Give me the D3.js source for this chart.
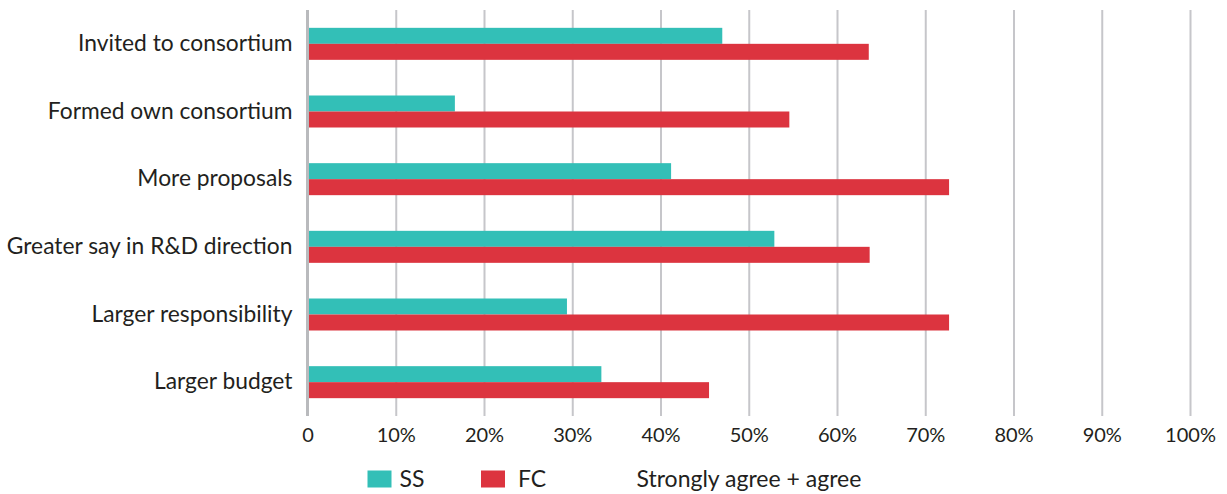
<!DOCTYPE html>
<html>
<head>
<meta charset="utf-8">
<script src="https://cdn.jsdelivr.net/npm/d3@7"></script>
<style>
  body { margin: 0; background: #fff; }
  svg { display: block; }
  text { font-family: Lato, "Noto Sans", sans-serif; fill: #231f20; }
</style>
</head>
<body>
<div id="chart"></div>
<script>
// categories, top to bottom
let categories = [
	"Invited to consortium",
	"Formed own consortium",
	"More proposals",
	"Greater say in R&D direction",
	"Larger responsibility",
	"Larger budget"
];
let seriesNames = ["SS", "FC"];
let ssValues = [47.0, 16.7, 41.2, 52.9, 29.4, 33.3];
let fcValues = [63.6, 54.6, 72.7, 63.7, 72.7, 45.5];
let tickValues = [0, 10, 20, 30, 40, 50, 60, 70, 80, 90, 100];
let tickLabels = ["0", "10%", "20%", "30%", "40%", "50%", "60%", "70%", "80%", "90%", "100%"];
let legendNote = "Strongly agree + agree";

let colors = { SS: "#33bfb7", FC: "#dc343f" };

let width = 1227,
    height = 494;

let svg = d3.select("#chart").append("svg")
	.attr("width", width)
	.attr("height", height);

let x = d3.scaleLinear()
	.domain([0, 100])
	.range([307.5, 1190]);

let y = d3.scaleBand()
	.domain(categories)
	.range([10, 416]);

let barGroup = 32;
let ySub = d3.scaleBand()
	.domain(seriesNames)
	.range([0, barGroup]);

// grid lines
svg.append("g")
	.attr("transform", "translate(0,10)")
	.call(d3.axisBottom(x).tickValues(tickValues.slice(1)).tickSize(406).tickFormat(""))
	.call(g => g.select(".domain").remove())
	.call(g => g.selectAll("line").attr("stroke", "#c6c6ca").attr("stroke-width", 2));

// tick labels
svg.append("g")
	.attr("transform", "translate(0,425)")
	.call(d3.axisBottom(x).tickValues(tickValues).tickSize(0).tickFormat((d, i) => tickLabels[i]))
	.call(g => g.select(".domain").remove())
	.call(g => g.selectAll("text")
		.attr("font-size", 20)
		.attr("font-family", "Lato, 'Noto Sans', sans-serif")
		.attr("dy", "0.71em")
		.style("fill", "#231f20"));

// bars
let rows = categories.map((c, i) => ({ cat: c, SS: ssValues[i], FC: fcValues[i] }));

let groups = svg.append("g")
	.selectAll("g")
	.data(rows)
	.enter()
	.append("g")
	.attr("transform", d => `translate(0,${y(d.cat) + (y.bandwidth() - barGroup) / 2})`);

groups.selectAll("rect")
	.data(d => seriesNames.map(s => ({ key: s, value: d[s] })))
	.enter()
	.append("rect")
	.attr("x", x(0))
	.attr("y", d => ySub(d.key))
	.attr("width", d => x(d.value) - x(0))
	.attr("height", ySub.bandwidth())
	.attr("fill", d => colors[d.key]);

// zero axis line
svg.append("line")
	.attr("x1", x(0)).attr("x2", x(0))
	.attr("y1", 10).attr("y2", 416)
	.attr("stroke", "#b9babd")
	.attr("stroke-width", 3);

// category labels
svg.append("g")
	.attr("transform", `translate(${x(0) - 15},0)`)
	.call(d3.axisLeft(y).tickSize(0).tickPadding(0))
	.call(g => g.select(".domain").remove())
	.call(g => g.selectAll("text")
		.attr("font-size", 22.8)
		.attr("font-family", "Lato, 'Noto Sans', sans-serif")
		.style("fill", "#231f20"));

// legend
let legend = svg.append("g").attr("transform", "translate(0,479)");
let legendX = [367.5, 481];
let legendTextGap = [32, 37];

seriesNames.forEach((s, i) => {
	legend.append("rect")
		.attr("x", legendX[i]).attr("y", -8.5)
		.attr("width", 24).attr("height", 17)
		.attr("fill", colors[s]);
	legend.append("text")
		.attr("x", legendX[i] + legendTextGap[i])
		.attr("dy", "0.35em")
		.attr("font-size", 23)
		.text(s);
});

legend.append("text")
	.attr("x", 636.5)
	.attr("dy", "0.35em")
	.attr("font-size", 23)
	.text(legendNote);
</script>
</body>
</html>
